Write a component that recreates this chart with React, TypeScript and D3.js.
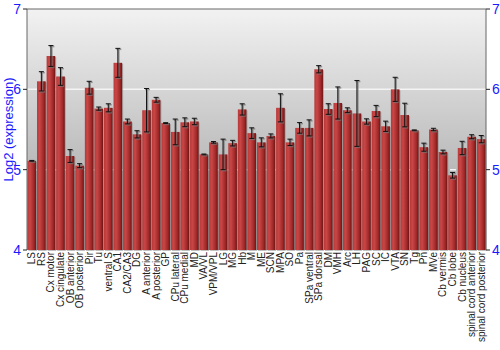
import React from "react";
import * as d3 from "d3";

const categories = ["LS","RS","Cx motor","Cx cingulate","OB anterior","OB posterior","Pir","Tu","ventral S","CA1","CA2/CA3","DG","A anterior","A posterior","GP","CPu lateral","CPu medial","MD","VA/VL","VPM/VPL","LG","MG","Hb","M","ME","SCN","MPA","SO","Pa","SPa ventral","SPa dorsal","DM","VMH","Arc","LH","PAG","SC","IC","VTA","SN","Tg","Pn","MVe","Cb vermis","Cb lobe","Cb nucleus","spinal cord anterior","spinal cord posterior"];
const values = [5.11,6.10,6.415,6.16,5.17,5.05,6.02,5.76,5.77,6.33,5.60,5.44,5.74,5.87,5.58,5.47,5.59,5.60,5.19,5.34,5.19,5.33,5.75,5.455,5.34,5.42,5.77,5.34,5.52,5.52,6.25,5.755,5.83,5.74,5.70,5.60,5.73,5.54,6.00,5.68,5.49,5.28,5.50,5.22,4.93,5.27,5.41,5.38];
const errors = [0.005,0.12,0.13,0.11,0.08,0.025,0.08,0.02,0.05,0.18,0.03,0.045,0.27,0.03,0.005,0.16,0.055,0.04,0.005,0.01,0.19,0.035,0.07,0.066,0.056,0.025,0.175,0.04,0.066,0.1,0.045,0.066,0.2,0.03,0.41,0.033,0.07,0.064,0.15,0.147,0.005,0.05,0.015,0.023,0.035,0.083,0.025,0.045];
const yTicks = [4,5,6,7];

const W = 500, H = 350;
const left = 27, right = 486, top = 9, bottom = 250;

export default function App() {
  const x = d3.scaleBand<string>().domain(categories).range([left, right]).paddingInner(0.1).paddingOuter(0.05);
  const y = d3.scaleLinear().domain([4, 7]).range([bottom, top]);
  const bw = x.bandwidth();
  return (
    <svg width={W} height={H} style={{ position: "absolute", left: 0, top: 0, fontFamily: "Liberation Sans, Arial, sans-serif" }}>
      <defs>
        <linearGradient id="bg" x1="0" y1="0" x2="0" y2="1">
          <stop offset="0" stopColor="#f2f2f2" />
          <stop offset="1" stopColor="#9c9c9c" />
        </linearGradient>
        <linearGradient id="bar" x1="0" y1="0" x2="1" y2="0">
          <stop offset="0" stopColor="#b83838" />
          <stop offset="0.3" stopColor="#c94646" />
          <stop offset="0.75" stopColor="#a02828" />
          <stop offset="1" stopColor="#6e1414" />
        </linearGradient>
      </defs>
      <rect x={left} y={top} width={right - left} height={bottom - top} fill="url(#bg)" />
      {[5, 6].map((t) => (
        <line key={t} x1={left} x2={right} y1={y(t)} y2={y(t)} stroke="#f4f4f4" strokeWidth={1.5} strokeDasharray={t === 5 ? "6,3" : undefined} />
      ))}
      {categories.map((c, i) => (
        <g key={c}>
          <rect x={(x(c) as number) + 1} y={y(values[i]) + 1} width={bw} height={bottom - y(values[i])} fill="#808080" opacity={0.5} />
          <rect x={x(c)} y={y(values[i])} width={bw} height={bottom - y(values[i])} fill="url(#bar)" />
        </g>
      ))}
      {categories.map((c, i) => {
        const cx = (x(c) as number) + bw / 2;
        const y1 = y(values[i] + errors[i]);
        const y2 = y(values[i] - errors[i]);
        return (
          <g key={"e" + c}>
            <g stroke="#777" strokeWidth={1.5} opacity={0.7} transform="translate(1,1)">
              <line x1={cx} x2={cx} y1={y1} y2={y2} />
              <line x1={cx - 2.5} x2={cx + 2.5} y1={y1} y2={y1} />
              <line x1={cx - 2.5} x2={cx + 2.5} y1={y2} y2={y2} />
            </g>
            <g stroke="#111" strokeWidth={1}>
              <line x1={cx} x2={cx} y1={y1} y2={y2} />
              <line x1={cx - 2.5} x2={cx + 2.5} y1={y1} y2={y1} />
              <line x1={cx - 2.5} x2={cx + 2.5} y1={y2} y2={y2} />
            </g>
          </g>
        );
      })}
      <line x1={left} x2={right} y1={top} y2={top} stroke="#666" />
      <line x1={left} x2={left} y1={top} y2={bottom} stroke="#666" />
      <line x1={right} x2={right} y1={top} y2={bottom} stroke="#666" />
      {yTicks.map((t) => (
        <g key={"t" + t}>
          <line x1={left - 4} x2={left} y1={y(t)} y2={y(t)} stroke="#222" />
          <line x1={right} x2={right + 4} y1={y(t)} y2={y(t)} stroke="#222" />
          <text x={left - 6} y={y(t)} dy="0.35em" textAnchor="end" fill="#1a1aff" fontSize={14}>{t}</text>
          <text x={right + 6} y={y(t)} dy="0.35em" textAnchor="start" fill="#1a1aff" fontSize={14}>{t}</text>
        </g>
      ))}
      <text transform={`translate(13,${(top + bottom) / 2}) rotate(-90)`} textAnchor="middle" fill="#1a1aff" fontSize={13}>Log2 (expression)</text>
      {categories.map((c) => {
        const cx = (x(c) as number) + bw / 2;
        return (
          <text key={"l" + c} transform={`translate(${cx},${bottom + 2}) rotate(-90)`} textAnchor="end" dy="0.35em" fontSize={10} fill="#222">{c}</text>
        );
      })}
    </svg>
  );
}
